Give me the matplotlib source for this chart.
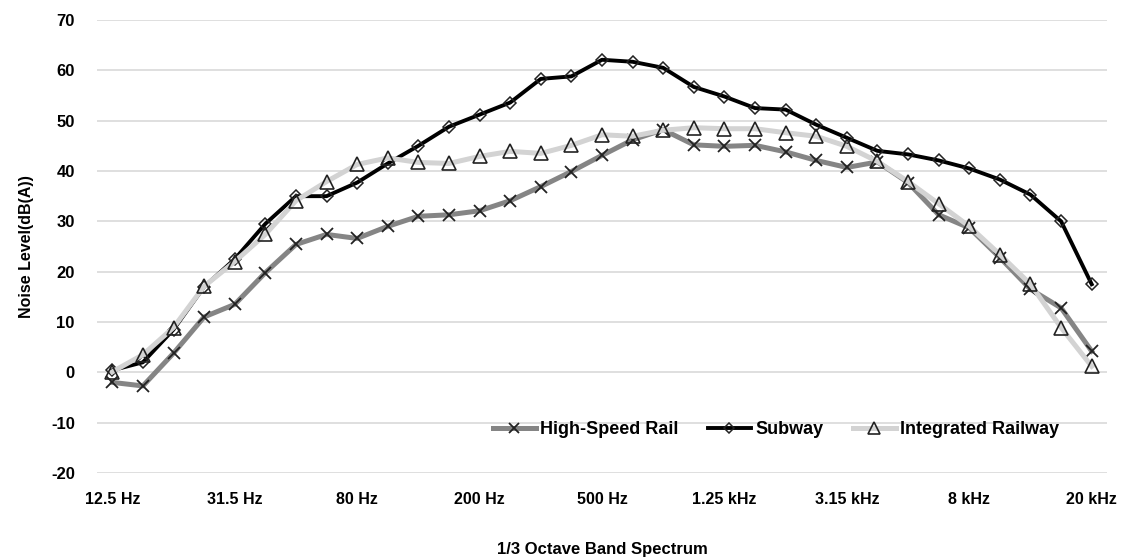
import matplotlib
matplotlib.use('Agg')
import matplotlib.pyplot as plt

# 1/3 octave band centre frequencies (labels shown every 4th band)
bands = ['12.5 Hz', '16 Hz', '20 Hz', '25 Hz', '31.5 Hz', '40 Hz', '50 Hz', '63 Hz',
         '80 Hz', '100 Hz', '125 Hz', '160 Hz', '200 Hz', '250 Hz', '315 Hz', '400 Hz',
         '500 Hz', '630 Hz', '800 Hz', '1 kHz', '1.25 kHz', '1.6 kHz', '2 kHz', '2.5 kHz',
         '3.15 kHz', '4 kHz', '5 kHz', '6.3 kHz', '8 kHz', '10 kHz', '12.5 kHz', '16 kHz',
         '20 kHz']

high_speed = [-2.0, -2.7, 3.8, 11.0, 13.5, 19.8, 25.4, 27.4, 26.6, 29.0, 31.0, 31.3,
              32.1, 34.1, 36.9, 39.9, 43.1, 46.2, 48.2, 45.2, 44.9, 45.1, 43.8, 42.1,
              40.7, 41.8, 37.7, 31.3, 28.7, 22.8, 16.5, 12.8, 4.2]
subway = [0.4, 2.0, 8.5, 17.0, 22.5, 29.5, 35.0, 35.0, 37.7, 41.5, 45.0, 48.8,
          51.2, 53.6, 58.3, 58.8, 62.1, 61.7, 60.5, 56.7, 54.8, 52.5, 52.2, 49.2,
          46.6, 44.0, 43.3, 42.1, 40.5, 38.3, 35.3, 30.0, 17.5]
integrated = [0.1, 3.5, 8.9, 17.1, 22.0, 27.4, 34.1, 37.9, 41.3, 42.6, 41.7, 41.5,
              42.9, 43.9, 43.5, 45.1, 47.2, 46.9, 48.1, 48.6, 48.4, 48.4, 47.6, 46.9,
              44.9, 41.9, 37.9, 33.5, 29.0, 23.4, 17.5, 8.9, 1.2]

plt.rcParams['font.family'] = ['Liberation Sans', 'DejaVu Sans']
plt.rcParams['font.weight'] = 'bold'
plt.rcParams['axes.labelweight'] = 'bold'
plt.rcParams['axes.unicode_minus'] = False

fig = plt.figure(figsize=(11.31, 5.57), dpi=100)
ax = fig.add_axes([97 / 1131, 1 - 473 / 557, 1010 / 1131, 453 / 557])

x = list(range(len(bands)))
ax.plot(x, high_speed, color='#858585', lw=3.6, marker='x', ms=9, mew=1.3,
        mec='#222222', label='High-Speed Rail', zorder=3)
ax.plot(x, subway, color='black', lw=2.8, marker='D', ms=6, mew=1.1,
        mec='#222222', mfc='none', label='Subway', zorder=4)
ax.plot(x, integrated, color='#d3d3d3', lw=3.6, marker='^', ms=10, mew=1.2,
        mec='#222222', mfc='none', label='Integrated Railway', zorder=5)

ax.set_xlim(-0.5, len(bands) - 0.5)
ax.set_ylim(-20, 70)
ax.set_yticks(range(-20, 71, 10))
ax.set_xticks(x[::4])
ax.set_xticklabels(bands[::4], fontsize=11.5)
ax.tick_params(axis='y', labelsize=12, length=0, pad=16)
ax.tick_params(axis='x', length=0, pad=14)
ax.grid(axis='y', color='#d9d9d9', lw=1.2)
ax.set_axisbelow(True)
for s in ax.spines.values():
    s.set_visible(False)

ax.set_ylabel('Noise Level(dB(A))', fontsize=11.5, labelpad=12)
ax.set_xlabel('1/3 Octave Band Spectrum', fontsize=12, labelpad=25)

ax.legend(loc='center right', bbox_to_anchor=(0.962, 0.095), ncol=3, frameon=False,
          prop={'weight': 'bold', 'size': 13}, markerscale=0.8, borderpad=0,
          handlelength=2.4, columnspacing=1.6, handletextpad=0.25)

fig.savefig('out.png', dpi=100)
